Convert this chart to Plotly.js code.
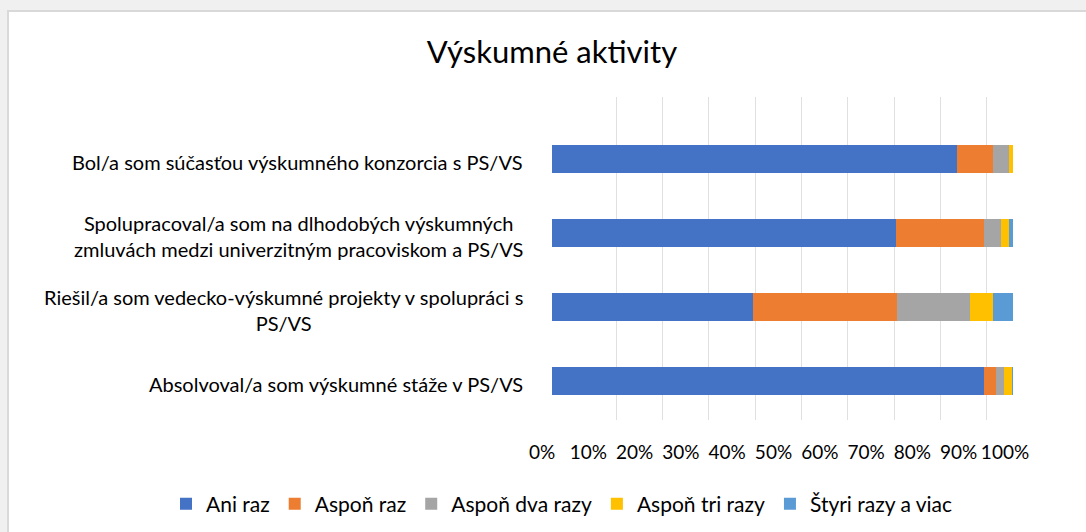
<!DOCTYPE html>
<html>
<head>
<meta charset="utf-8">
<script src="https://cdn.plot.ly/plotly-3.0.1.min.js"></script>
<style>
  html, body { margin: 0; padding: 0; background: #f0f0f0; width: 1086px; height: 532px; overflow: hidden; }
  #wrap { position: absolute; left: 7px; top: 10px; border-left: 2px solid #d9d9d9; border-top: 2px solid #d9d9d9; background: #fff; }
  #chart { width: 1077px; height: 520px; }
</style>
</head>
<body>
<div id="wrap"><div id="chart"></div></div>
<script>
// Categories (bottom to top as drawn)
const categories = [
  "Absolvoval/a som výskumné stáže v PS/VS",
  "Riešil/a som vedecko-výskumné projekty v spolupráci s PS/VS",
  "Spolupracoval/a som na dlhodobých výskumných zmluvách medzi univerzitným pracoviskom a PS/VS",
  "Bol/a som súčasťou výskumného konzorcia s PS/VS"
];
const categoryLabels = [
  "Absolvoval/a som výskumné stáže v PS/VS",
  "Riešil/a som vedecko-výskumné projekty v spolupráci s<br>PS/VS",
  "Spolupracoval/a som na dlhodobých výskumných<br>zmluvách medzi univerzitným pracoviskom a PS/VS",
  "Bol/a som súčasťou výskumného konzorcia s PS/VS"
];
const seriesNames = ["Ani raz", "Aspoň raz", "Aspoň dva razy", "Aspoň tri razy", "Štyri razy a viac"];
const aniRaz       = [0.937, 0.436, 0.746, 0.879];
const asponRaz     = [0.026, 0.312, 0.191, 0.078];
const asponDva     = [0.017, 0.159, 0.037, 0.034];
const asponTri     = [0.017, 0.049, 0.017, 0.009];
const styriAViac   = [0.003, 0.044, 0.009, 0.000];
const tickValues = [0, 0.1, 0.2, 0.3, 0.4, 0.5, 0.6, 0.7, 0.8, 0.9, 1.0];
const tickLabels = ["0%", "10%", "20%", "30%", "40%", "50%", "60%", "70%", "80%", "90%", "100%"];

const colors = ["#4472C4", "#ED7D31", "#A5A5A5", "#FFC000", "#5B9BD5"];
const seriesValues = [aniRaz, asponRaz, asponDva, asponTri, styriAViac];
const FONT = "Lato, 'Liberation Sans', sans-serif";

// plot area geometry (pixels inside the chart div)
const L = 500, R = 30, W = 1077 - L - R;
const T = 85, B = 112, H = 520 - T - B;
const dom = (a, b) => [(a - L) / W, (b - L) / W];

// helper trace so the grid axis (x) is drawn first, under the bars
const traces = [{ type: "scatter", x: [], y: [], xaxis: "x", yaxis: "y", showlegend: false, hoverinfo: "skip" }];
seriesValues.forEach((vals, i) => traces.push({
  type: "bar", orientation: "h",
  name: seriesNames[i],
  x: vals, y: categories,
  marker: { color: colors[i], line: { width: 0 } },
  width: 0.38,
  xaxis: "x2", yaxis: "y",
  hoverinfo: "x+name"
}));
// helper trace for the tick-label axis
traces.push({ type: "scatter", x: [], y: [], xaxis: "x3", yaxis: "y", showlegend: false, hoverinfo: "skip" });

const annotations = categories.map((c, i) => ({
  xref: "paper", yref: "y",
  x: dom(543, 1004)[0], y: c,
  xanchor: "right", yanchor: "middle",
  xshift: -27, yshift: -3,
  align: "center",
  text: categoryLabels[i],
  showarrow: false,
  font: { family: FONT, size: 20, color: "#000" }
}));

const layout = {
  width: 1077, height: 520,
  paper_bgcolor: "#ffffff", plot_bgcolor: "rgba(0,0,0,0)",
  margin: { l: L, r: R, t: T, b: B, autoexpand: false },
  barmode: "stack",
  title: {
    text: "Výskumné aktivity",
    font: { family: FONT, size: 31, color: "#000" },
    xref: "container", x: 543 / 1077, xanchor: "center",
    yref: "container", y: 1 - 40 / 520, yanchor: "middle"
  },
  xaxis: {
    domain: dom(561, 1024), range: [0, 1], anchor: "y",
    tickvals: tickValues, showgrid: true, gridcolor: "#e0e0e0", gridwidth: 1,
    zeroline: false, showticklabels: false, showline: false, ticks: ""
  },
  xaxis2: {
    domain: dom(543, 1004), range: [0, 1], anchor: "y",
    showgrid: false, zeroline: false, showticklabels: false, showline: false, ticks: ""
  },
  xaxis3: {
    domain: dom(533, 996), range: [0, 1], anchor: "y", side: "bottom",
    tickvals: tickValues, ticktext: tickLabels, tickangle: 0,
    showgrid: false, zeroline: false, showline: false, automargin: false,
    ticks: "outside", ticklen: 15, tickcolor: "rgba(0,0,0,0)",
    tickfont: { family: FONT, size: 19, color: "#000" }
  },
  yaxis: {
    type: "category", categoryorder: "array", categoryarray: categories,
    range: [-0.527, 3.838],
    showgrid: false, zeroline: false, showticklabels: false, showline: false, ticks: ""
  },
  legend: {
    orientation: "h", traceorder: "normal",
    xref: "paper", x: (157 - L) / W, xanchor: "left",
    yref: "paper", y: -(492 - (520 - B)) / H, yanchor: "middle",
    font: { family: FONT, size: 21, color: "#000" },
    itemwidth: 30, tracegroupgap: 0
  },
  annotations: annotations,
  showlegend: true
};

Plotly.newPlot("chart", traces, layout, { displayModeBar: false, staticPlot: true });
</script>
</body>
</html>
